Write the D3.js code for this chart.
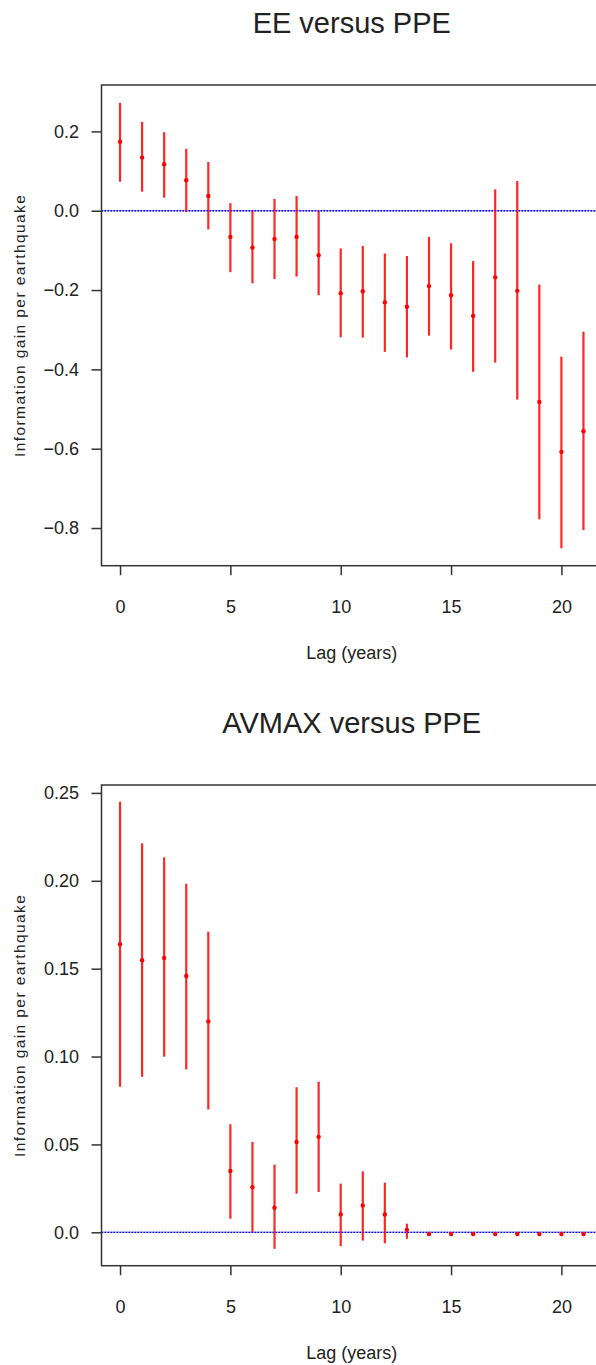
<!DOCTYPE html>
<html>
<head>
<meta charset="utf-8">
<script src="https://cdn.jsdelivr.net/npm/d3@7"></script>
<style>
  html, body { margin: 0; padding: 0; background: #fff; }
  svg { display: block; }
  text { font-family: "Liberation Sans", Arial, Helvetica, sans-serif; fill: #222; }
</style>
</head>
<body>
<script>
// ---------------- data ----------------
const lags = [0,1,2,3,4,5,6,7,8,9,10,11,12,13,14,15,16,17,18,19,20,21];

const eeMean = [0.174,0.134,0.117,0.077,0.037,-0.066,-0.093,-0.071,-0.066,-0.112,-0.208,-0.203,-0.231,-0.242,-0.190,-0.213,-0.265,-0.168,-0.202,-0.482,-0.608,-0.556];
const eeLow  = [0.073,0.048,0.033,-0.003,-0.047,-0.155,-0.183,-0.172,-0.166,-0.213,-0.319,-0.320,-0.356,-0.370,-0.315,-0.350,-0.406,-0.383,-0.476,-0.778,-0.851,-0.805];
const eeHigh = [0.272,0.224,0.198,0.156,0.123,0.019,0.000,0.030,0.037,0.000,-0.095,-0.089,-0.108,-0.114,-0.066,-0.082,-0.127,0.054,0.075,-0.186,-0.368,-0.305];

const avMean = [0.1639,0.1548,0.1561,0.1458,0.1200,0.0349,0.0257,0.0140,0.0514,0.0543,0.0102,0.0153,0.0102,0.0014,-0.0010,-0.0010,-0.0010,-0.0010,-0.0010,-0.0010,-0.0010,-0.0010];
const avLow  = [0.0828,0.0885,0.0999,0.0927,0.0699,0.0077,0.0000,-0.0094,0.0220,0.0229,-0.0079,-0.0047,-0.0062,-0.0037,-0.0020,-0.0020,-0.0020,-0.0020,-0.0020,-0.0020,-0.0020,-0.0020];
const avHigh = [0.2450,0.2213,0.2134,0.1983,0.1710,0.0615,0.0514,0.0385,0.0825,0.0857,0.0277,0.0347,0.0282,0.0049,0.0000,0.0000,0.0000,0.0000,0.0000,0.0000,0.0000,0.0000];

const xTicks = [0,5,10,15,20];
const xTickLabels = ["0","5","10","15","20"];
const eeYTicks = [-0.8,-0.6,-0.4,-0.2,0.0,0.2];
const eeYTickLabels = ["\u22120.8","\u22120.6","\u22120.4","\u22120.2","0.0","0.2"];
const avYTicks = [0,0.05,0.10,0.15,0.20,0.25];
const avYTickLabels = ["0.0","0.05","0.10","0.15","0.20","0.25"];

const titles = ["EE versus PPE","AVMAX versus PPE"];
const xLabel = "Lag (years)";
const yLabel = "Information gain per earthquake";

// ---------------- layout ----------------
const W = 596, H = 1365;
const svg = d3.select("body").append("svg").attr("width", W).attr("height", H);

function panel(offsetY, title, mean, low, high, yDomain, yTicks, yTickLabels) {
  const left = 101.5, right = 602, top = offsetY + 85, bottom = offsetY + 565.7;
  const x = d3.scaleLinear().domain([-0.84, 21.84]).range([left, right]);
  const y = d3.scaleLinear().domain(yDomain).range([bottom, top]);
  const g = svg.append("g");
  const cx = (left + right) / 2;

  // title
  g.append("text").attr("x", cx).attr("y", offsetY + 33)
    .attr("text-anchor", "middle").style("font-size", "29px").text(title);

  // zero reference line (dotted, R lty=3 look)
  g.append("line")
    .attr("x1", left).attr("x2", right)
    .attr("y1", y(0)).attr("y2", y(0))
    .attr("stroke", "#0000ff").attr("stroke-opacity", 0.35).attr("stroke-width", 1.5);
  g.append("line")
    .attr("x1", left).attr("x2", right)
    .attr("y1", y(0)).attr("y2", y(0))
    .attr("stroke", "#0000ff").attr("stroke-width", 1.3)
    .attr("stroke-dasharray", "1.5,1.5");

  // error bars
  g.selectAll(".bar").data(lags).enter().append("line")
    .attr("x1", (d) => x(d)).attr("x2", (d) => x(d))
    .attr("y1", (d, i) => y(low[i])).attr("y2", (d, i) => y(high[i]))
    .attr("stroke", "#ff0000").attr("stroke-opacity", 0.85).attr("stroke-width", 2.2);

  // points
  g.selectAll(".pt").data(lags).enter().append("circle")
    .attr("cx", (d) => x(d)).attr("cy", (d, i) => y(mean[i]))
    .attr("r", 2.2).attr("fill", "#ff0000");

  // box
  g.append("rect").attr("x", left).attr("y", top)
    .attr("width", right - left).attr("height", bottom - top)
    .attr("fill", "none").attr("stroke", "#333").attr("stroke-width", 1.5);

  // x axis
  const xAxis = d3.axisBottom(x).tickValues(xTicks)
    .tickFormat((d, i) => xTickLabels[i]).tickSize(9.5).tickPadding(25);
  const xa = g.append("g").attr("transform", `translate(0,${bottom})`).call(xAxis);
  xa.select(".domain").remove();
  xa.selectAll("line").attr("stroke", "#333").attr("stroke-width", 1.5);
  xa.selectAll("text").style("font-size", "18px").attr("fill", "#333")
    .attr("dy", "0").attr("y", 47);

  // y axis
  const yAxis = d3.axisLeft(y).tickValues(yTicks)
    .tickFormat((d, i) => yTickLabels[i]).tickSize(10).tickPadding(12.5);
  const ya = g.append("g").attr("transform", `translate(${left},0)`).call(yAxis);
  ya.select(".domain").remove();
  ya.selectAll("line").attr("stroke", "#333").attr("stroke-width", 1.5);
  ya.selectAll("text").style("font-size", "18px").attr("fill", "#333");

  // axis labels
  g.append("text").attr("x", cx).attr("y", offsetY + 659)
    .attr("text-anchor", "middle").style("font-size", "18px").attr("fill", "#333").text(xLabel);
  const ym = (top + bottom) / 2;
  g.append("text")
    .attr("transform", `translate(25,${ym}) rotate(-90)`)
    .attr("text-anchor", "middle").style("font-size", "15.5px")
    .style("letter-spacing", "1.4px").attr("fill", "#333").text(yLabel);
}

panel(0, titles[0], eeMean, eeLow, eeHigh, [-0.895, 0.317], eeYTicks, eeYTickLabels);
panel(700, titles[1], avMean, avLow, avHigh, [-0.019, 0.2545], avYTicks, avYTickLabels);
</script>
</body>
</html>
